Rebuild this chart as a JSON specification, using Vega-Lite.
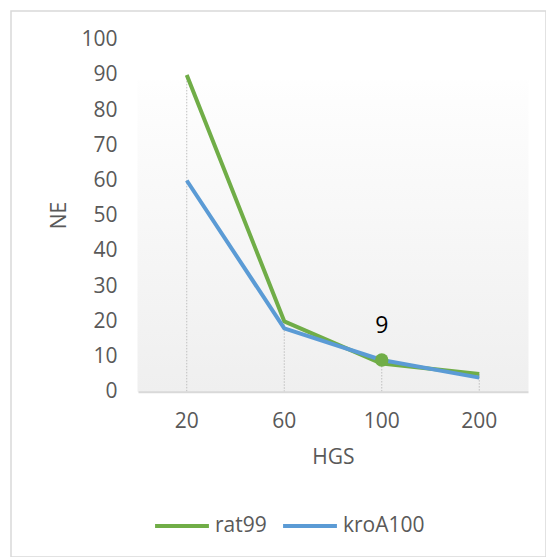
{
  "$schema": "https://vega.github.io/schema/vega-lite/v6.json",
  "autosize": {"type": "none"},
  "padding": {"left": 11, "top": 11, "right": 0, "bottom": 0},
  "width": 535,
  "height": 546,
  "background": "white",
  "config": {
    "font": "Open Sans",
    "view": {"stroke": "#D9D9D9", "strokeWidth": 1.5},
    "axis": {
      "labelFont": "Open Sans",
      "labelFontSize": 21,
      "labelColor": "#595959",
      "titleFont": "Open Sans",
      "titleFontSize": 21,
      "titleFontWeight": "normal",
      "titleColor": "#595959",
      "ticks": false,
      "tickSize": 0,
      "grid": false
    }
  },
  "datasets": {
    "series": [
      {"HGS": "20", "series": "rat99", "NE": 90},
      {"HGS": "60", "series": "rat99", "NE": 20},
      {"HGS": "100", "series": "rat99", "NE": 8},
      {"HGS": "200", "series": "rat99", "NE": 5},
      {"HGS": "20", "series": "kroA100", "NE": 60},
      {"HGS": "60", "series": "kroA100", "NE": 18},
      {"HGS": "100", "series": "kroA100", "NE": 9},
      {"HGS": "200", "series": "kroA100", "NE": 4}
    ],
    "marked": [
      {"HGS": "100", "series": "rat99", "NE": 9, "label": "9"}
    ]
  },
  "encoding": {
    "x": {
      "field": "HGS",
      "type": "ordinal",
      "sort": ["20", "60", "100", "200"],
      "scale": {"type": "band", "paddingInner": 0, "paddingOuter": 0, "range": [127, 517]},
      "axis": {
        "orient": "bottom",
        "offset": -165.3,
        "labelAngle": 0,
        "labelBaseline": "middle",
        "labelPadding": 30,
        "domainColor": "#D9D9D9",
        "domainWidth": 2,
        "title": "HGS",
        "titleX": 322,
        "titleY": 66,
        "titleBaseline": "middle",
        "titleAlign": "center"
      }
    },
    "y": {
      "type": "quantitative",
      "scale": {"domain": [0, 100], "range": [380.7, 28.7], "nice": false, "zero": true},
      "axis": {
        "orient": "left",
        "offset": -127,
        "domain": false,
        "values": [0, 10, 20, 30, 40, 50, 60, 70, 80, 90, 100],
        "labelPadding": 21,
        "labelBaseline": "middle",
        "title": "NE",
        "titleX": -79,
        "titleY": 204,
        "titleAngle": -90,
        "titleBaseline": "middle",
        "titleAlign": "center"
      }
    }
  },
  "layer": [
    {
      "data": {"name": "series"},
      "transform": [{"aggregate": [{"op": "max", "field": "NE", "as": "top"}], "groupby": ["HGS"]}],
      "mark": {
        "type": "rect",
        "strokeWidth": 1,
        "fill": {
          "gradient": "linear", "x1": 0, "y1": 0, "x2": 0, "y2": 1,
          "stops": [{"offset": 0, "color": "#FEFEFE"}, {"offset": 1, "color": "#EFEFEF"}]
        },
        "stroke": {
          "gradient": "linear", "x1": 0, "y1": 0, "x2": 0, "y2": 1,
          "stops": [{"offset": 0, "color": "#FEFEFE"}, {"offset": 1, "color": "#EFEFEF"}]
        }
      },
      "encoding": {
        "y": {"datum": 88.5, "type": "quantitative"},
        "y2": {"datum": 0}
      }
    },
    {
      "data": {"name": "series"},
      "transform": [{"aggregate": [{"op": "max", "field": "NE", "as": "top"}], "groupby": ["HGS"]}],
      "mark": {"type": "rule", "color": "#BFBFBF", "strokeWidth": 1, "strokeDash": [1.5, 1.5]},
      "encoding": {
        "y": {"field": "top", "type": "quantitative"},
        "y2": {"datum": 0}
      }
    },
    {
      "data": {"name": "series"},
      "mark": {"type": "line", "strokeWidth": 4, "strokeJoin": "round"},
      "encoding": {
        "y": {"field": "NE", "type": "quantitative"},
        "color": {
          "field": "series",
          "type": "nominal",
          "sort": ["rat99", "kroA100"],
          "scale": {"domain": ["rat99", "kroA100"], "range": ["#70AD47", "#5B9BD5"]},
          "legend": {
            "title": null,
            "orient": "none",
            "direction": "horizontal",
            "legendX": 142,
            "legendY": 486,
            "symbolType": "stroke",
            "symbolSize": 2900,
            "symbolStrokeWidth": 4,
            "labelFont": "Open Sans",
            "labelFontSize": 21,
            "labelColor": "#595959",
            "labelOffset": 4,
            "columnPadding": 8,
            "padding": 0
          }
        }
      }
    },
    {
      "data": {"name": "marked"},
      "mark": {"type": "point", "filled": true, "opacity": 1, "size": 180, "color": "#70AD47"},
      "encoding": {
        "y": {"field": "NE", "type": "quantitative"}
      }
    },
    {
      "data": {"name": "marked"},
      "mark": {"type": "text", "dy": -34, "fontSize": 23, "font": "Open Sans", "color": "#000000"},
      "encoding": {
        "y": {"field": "NE", "type": "quantitative"},
        "text": {"field": "label"}
      }
    }
  ]
}
